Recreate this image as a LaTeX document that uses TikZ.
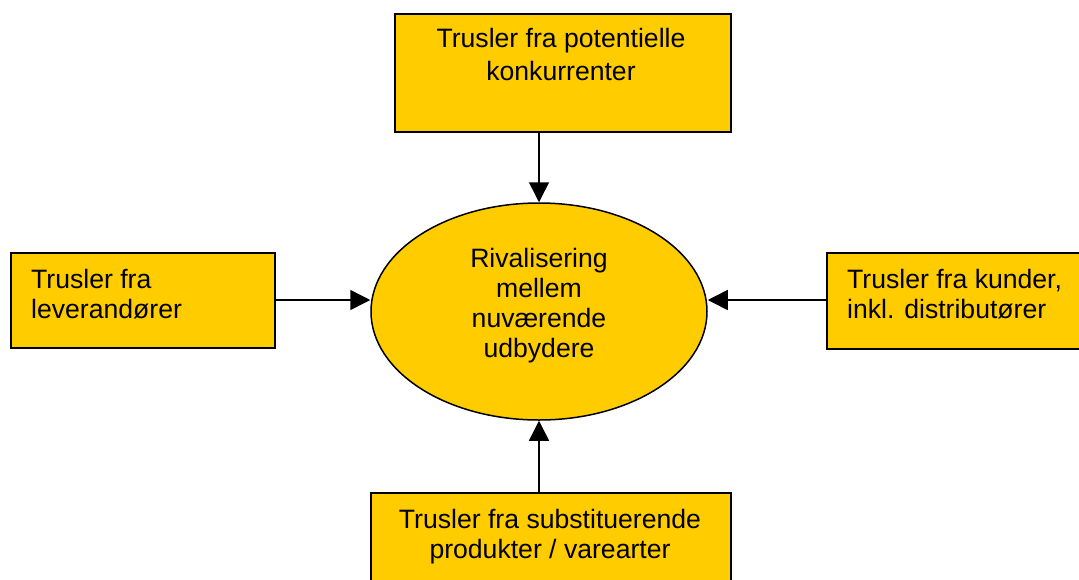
\documentclass[tikz,border=0pt]{standalone}
\usepackage{fontspec}
\setmainfont{Liberation Sans}
\usetikzlibrary{arrows.meta,shapes.geometric}
\definecolor{boxfill}{HTML}{FFCC00}
\begin{document}
\begin{tikzpicture}[x=1pt,y=-1pt,
  box/.style={draw=black,line width=1.5pt,fill=boxfill,inner sep=0pt,anchor=north west},
  lbl/.style={inner sep=0pt,font=\fontsize{26.6}{30}\selectfont},
  conn/.style={line width=1.5pt,-{Triangle[length=20pt,width=20pt]}}]
\useasboundingbox (0,0) rectangle (1079,579);
\node[box,minimum width=336pt,minimum height=118pt] (top) at (394,13) {};
\node[box,minimum width=264pt,minimum height=95pt] (left) at (10,252) {};
\node[box,minimum width=260pt,minimum height=96pt] (right) at (826,252) {};
\node[box,minimum width=360pt,minimum height=95pt] (bot) at (370,492) {};
\node[ellipse,draw=black,line width=1.5pt,fill=boxfill,inner sep=0pt,minimum width=336pt,minimum height=217pt] (mid) at (539,311.5) {};
\node[lbl,font=\fontsize{26.6}{33}\selectfont,align=center,anchor=north] (ttop) at (561,28) {Trusler fra potentielle\\konkurrenter};
\node[lbl,align=left,anchor=north west] (tleft) at (31,269) {Trusler fra\\leverandører};
\node[lbl,align=left,anchor=north west] (tright) at (847,269) {Trusler fra kunder,\\inkl. distributører};
\node[lbl,align=center,anchor=north] (tbot) at (550,509) {Trusler fra substituerende\\produkter / varearter};
\node[lbl,align=center,anchor=north] (tmid) at (539,248) {Rivalisering\\mellem\\nuværende\\udbydere};
\draw[conn] (top.south -| mid.north) -- (mid.north);
\draw[conn] (left.east |- 0,300) coordinate (la) -- (mid.west |- la);
\draw[conn] (right.west |- 0,300) coordinate (ra) -- (mid.east |- ra);
\draw[conn] (bot.north -| mid.south) -- (mid.south);
\end{tikzpicture}
\end{document}
